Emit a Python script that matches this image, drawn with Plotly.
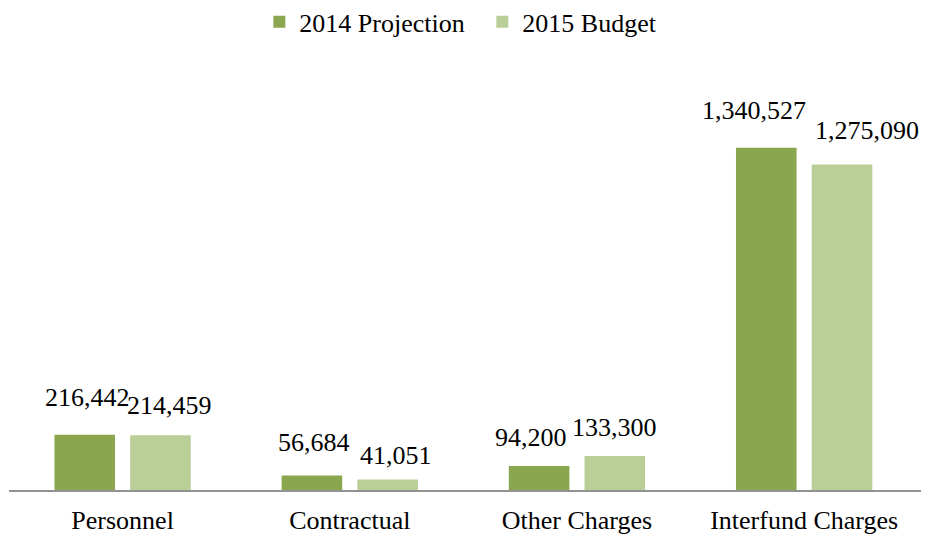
import plotly.graph_objects as go

# Expenditure categories and the two series
categories = ["Personnel", "Contractual", "Other Charges", "Interfund Charges"]
projection_2014 = [216442, 56684, 94200, 1340527]
budget_2015 = [214459, 41051, 133300, 1275090]
series_names = ["2014 Projection", "2015 Budget"]

# Styling
colors = ["#8AA64E", "#BACF97"]
font_family = "Liberation Serif"
font_size = 26
bargap = 1 / 3
# per-label pixel nudges (x, y) for the value labels, in series order
label_nudges = [
    [(3, 21), (2, 17), (-8, 12), (-12, 21)],
    [(9, 13), (8, 8), (0, 12), (25, 17)],
]

fig = go.Figure()
for name, vals, col in zip(series_names, [projection_2014, budget_2015], colors):
    fig.add_trace(go.Bar(
        name=name, x=categories, y=vals,
        marker=dict(color=col, line=dict(width=0)),
        hoverinfo="x+y",
    ))

# value labels above each bar
half = (1 - bargap) / 4
for si, vals in enumerate([projection_2014, budget_2015]):
    offset = -half if si == 0 else half
    for ci, v in enumerate(vals):
        dx, dy = label_nudges[si][ci]
        fig.add_annotation(
            x=ci + offset, y=v, xref="x", yref="y",
            text=f"{v:,}", showarrow=False,
            xanchor="center", yanchor="bottom",
            xshift=dx, yshift=dy,
            font=dict(family=font_family, size=font_size, color="#000000"),
        )

fig.update_layout(
    width=928, height=535,
    margin=dict(l=9, r=7, t=56, b=45, autoexpand=False),
    paper_bgcolor="white", plot_bgcolor="white",
    barmode="group", bargap=bargap, bargroupgap=0.2,
    font=dict(family=font_family, size=font_size, color="#000000"),
    showlegend=True,
    legend=dict(
        orientation="h", x=0.2745, xanchor="left",
        yref="container", y=0.959, yanchor="middle",
        font=dict(family=font_family, size=font_size),
        itemwidth=30, traceorder="normal",
        entrywidth=178, entrywidthmode="pixels",
    ),
    xaxis=dict(
        type="category", showline=True, linecolor="#929292", linewidth=1.5,
        ticks="", showgrid=False, zeroline=False, ticklabelstandoff=6,
        tickfont=dict(family=font_family, size=font_size),
    ),
    yaxis=dict(
        range=[0, 1700000], visible=False, showgrid=False, zeroline=False,
    ),
)

fig.write_html("out.html")
